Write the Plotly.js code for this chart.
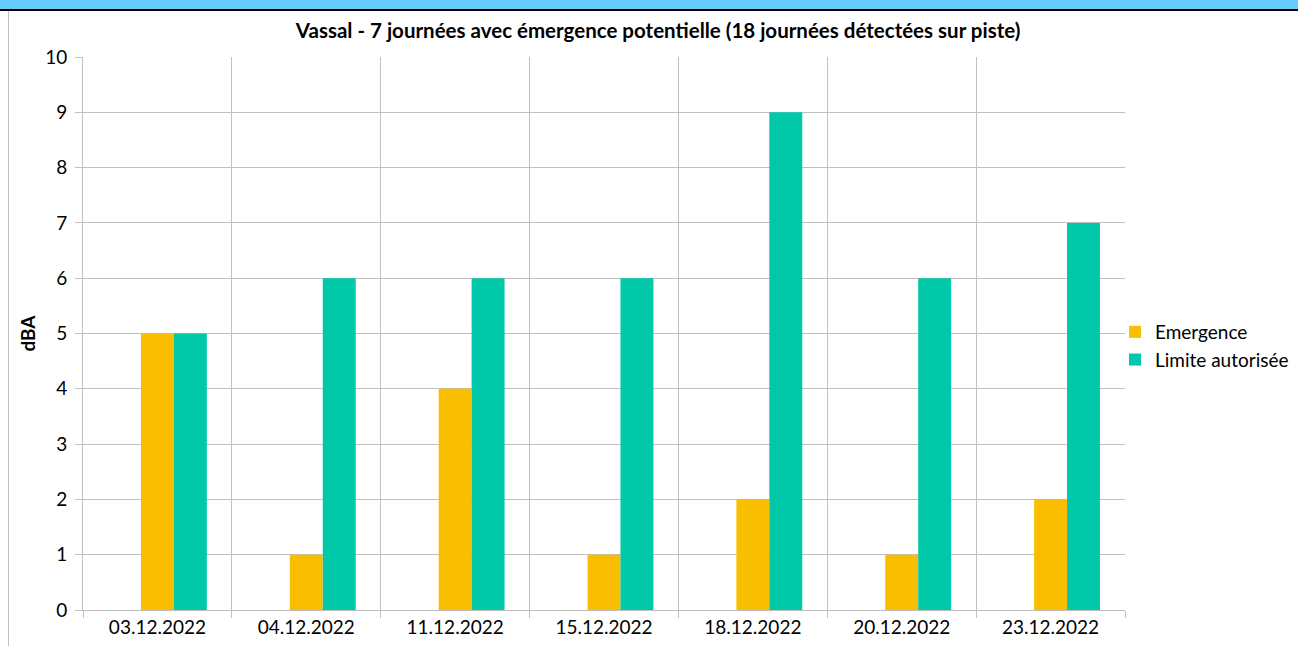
<!DOCTYPE html>
<html><head><meta charset="utf-8">
<script src="https://cdn.plot.ly/plotly-3.0.1.min.js"></script>
<style>
html,body{margin:0;padding:0;background:#fff;overflow:hidden}
#wrap{position:relative;width:1298px;height:646px}
#chart{position:absolute;left:0;top:0;width:1298px;height:646px}
#band{position:absolute;left:0;top:0;width:1298px;height:9px;background:#66CCFF;border-bottom:2px solid #000;z-index:2}
#lb{position:absolute;left:8px;top:11px;width:1px;height:635px;background:#bfbfbf;z-index:2}
</style></head>
<body><div id="wrap"><div id="chart"></div><div id="band"></div><div id="lb"></div></div>
<script>
const categories = ["03.12.2022","04.12.2022","11.12.2022","15.12.2022","18.12.2022","20.12.2022","23.12.2022"];
const hiddenSeries = [null,null,null,null,null,null,null];
const emergence = [5,1,4,1,2,1,2];
const limite = [5,6,6,6,9,6,7];
const yTicks = [0,1,2,3,4,5,6,7,8,9,10];

const font = "Lato, 'Open Sans', sans-serif";
const traces = [
  {type:"bar", x:categories, y:hiddenSeries, name:"", showlegend:false, marker:{color:"rgba(0,0,0,0)"}, hoverinfo:"skip"},
  {type:"bar", x:categories, y:emergence, name:"Emergence", marker:{color:"#FABE00"}},
  {type:"bar", x:categories, y:limite, name:"Limite autorisée", marker:{color:"#00C8A8"}}
];
const layout = {
  width:1298, height:646,
  margin:{l:83, r:173, t:57, b:36, autoexpand:false},
  paper_bgcolor:"rgba(0,0,0,0)", plot_bgcolor:"#fff",
  barmode:"group", bargap:0.336, bargroupgap:0,
  title:{text:"<b>Vassal - 7 journées avec émergence potentielle (18 journées détectées sur piste)</b>", x:0.507, xanchor:"center", y:0.953, yanchor:"middle", font:{family:font, size:20.5, color:"#000"}},
  xaxis:{type:"category", tickson:"boundaries", showgrid:true, gridcolor:"#bfbfbf", gridwidth:1,
    ticks:"outside", ticklen:7, tickcolor:"#bfbfbf", showline:true, linecolor:"#bfbfbf",
    tickfont:{family:font, size:19, color:"#000"}, automargin:false},
  yaxis:{range:[0,10], tickvals:yTicks, showgrid:true, gridcolor:"#bfbfbf", gridwidth:1, zeroline:false,
    ticks:"outside", ticklen:7, tickcolor:"#bfbfbf", showline:true, linecolor:"#bfbfbf",
    tickfont:{family:font, size:19, color:"#000"}, ticklabelstandoff:4,
    title:{text:"<b>dBA</b>", font:{family:font, size:19, color:"#000"}, standoff:4}, automargin:false},
  legend:{xref:"container", x:0.859, xanchor:"left", yref:"container", y:0.4644, yanchor:"middle", font:{family:font, size:19, color:"#000"},
    bgcolor:"rgba(0,0,0,0)", tracegroupgap:0, itemwidth:30}
};
Plotly.newPlot("chart", traces, layout, {displayModeBar:false, staticPlot:true});
</script></body></html>
